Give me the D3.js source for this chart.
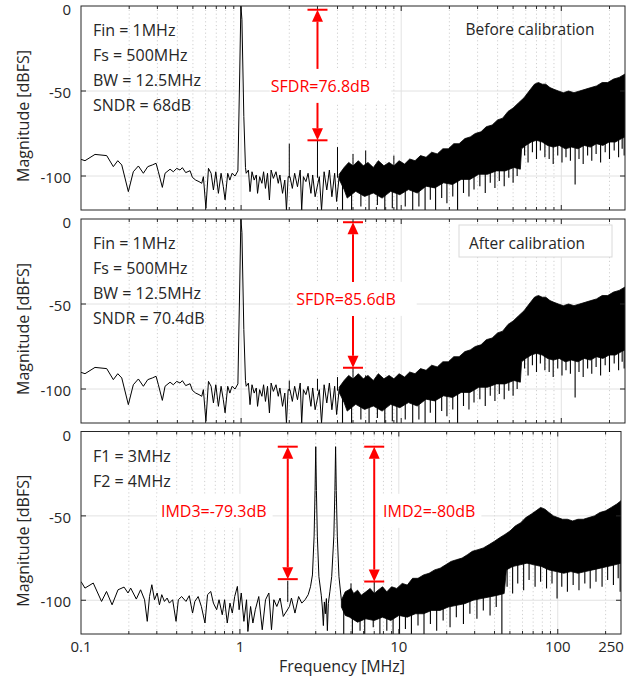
<!DOCTYPE html>
<html>
<head>
<meta charset="utf-8">
<script src="https://cdn.jsdelivr.net/npm/d3@7"></script>
<style>
  body { margin: 0; background: #fff; }
  text { font-family: "Open Sans", "Noto Sans", sans-serif; }
</style>
</head>
<body>
<svg id="chart" width="631" height="679"></svg>
<script>
// ---- axis settings ----
const xDomain = [0.1, 250];
const yDomain = [-120, 0];
const xTickVals = [0.1, 1, 10, 100, 250];
const xTickLabels = ["0.1", "1", "10", "100", "250"];
const yTickVals = [0, -50, -100];
const yTickLabels = ["0", "-50", "-100"];

// ---- single tone spectrum (same trace before / after calibration) ----
const toneLowF = [0.1, 0.1059, 0.1223, 0.1447, 0.1592, 0.1697, 0.1797, 0.1976, 0.2122, 0.2282,
  0.2452, 0.2612, 0.2791, 0.2943, 0.3043, 0.3222, 0.335, 0.36, 0.3772, 0.3964,
  0.4155, 0.4297, 0.4509, 0.48, 0.4964, 0.5205, 0.5459, 0.5677, 0.5814, 0.6027,
  0.6255, 0.6494, 0.6717, 0.695, 0.7215, 0.7499, 0.7743, 0.7943, 0.825, 0.8506,
  0.8781, 0.9163, 0.955, 0.98, 0.997, 1.012, 1.04, 1.065, 1.076, 1.111,
  1.137, 1.17, 1.207, 1.244, 1.267, 1.306, 1.349, 1.382, 1.42, 1.462,
  1.503, 1.54, 1.591, 1.652, 1.707, 1.747, 1.815, 1.875, 1.92, 1.968,
  2.02, 2.09, 2.16, 2.25, 2.34, 2.39, 2.45, 2.54, 2.62, 2.73,
  2.8, 2.9, 3.08, 3.18, 3.3, 3.43, 3.56, 3.69, 3.84, 3.95, 4.1];
const toneLowDb = [-90.2, -91, -87.3, -88, -94.5, -91, -93.5, -109.2, -97.5, -94.1,
  -98.4, -94.5, -93.5, -92.5, -97.5, -106.7, -98.4, -96, -97.5, -95.5,
  -96.5, -95.1, -98, -96.9, -100.8, -102.4, -103.3, -104.3, -100.4, -119,
  -95.5, -98.4, -108.2, -97.5, -110.2, -98.4, -106.3, -114, -98.4, -102.4,
  -98.4, -100, -97, -40, 0, -8, -65, -95, -98.4, -96.5,
  -109.2, -97.5, -102.4, -99.4, -110.2, -100.4, -104.3, -97.5, -107.3, -98.4,
  -114.1, -96.5, -101.4, -97.5, -104.3, -99.4, -110.2, -102.4, -120, -100.4,
  -100.4, -107.3, -98.4, -106.3, -96.5, -120, -100.4, -103.3, -98.4, -110.2,
  -99.4, -112.2, -100.4, -120, -97.5, -108.2, -96.5, -112.2, -98.4, -115, -100];

// dense part of the single tone spectrum: upper envelope, lower bulk edge, downward spikes
const toneTopF = [4.1, 4.4, 4.7, 5.0, 5.4, 5.8, 6.2, 6.7, 7.2, 7.8,
  8.4, 9.0, 9.7, 10.5, 11.3, 12.2, 13.2, 14.3, 15.5, 16.8,
  18.2, 19.7, 21.3, 23, 25, 27, 29, 31.5, 34, 37,
  40, 43, 46.5, 50, 54, 58.5, 63, 68, 72, 76,
  80, 85, 90, 96, 103, 111, 120, 130, 141, 153,
  166, 180, 195, 212, 230, 250];
const toneTopDb = [-99, -95, -92, -94, -91, -94, -92, -95, -91, -94,
  -92, -94, -91, -93, -90, -91, -88, -89, -86, -87,
  -84, -84, -81, -81, -78, -77, -75, -74, -71, -70,
  -67, -66, -62, -60, -57, -54, -50, -46, -45, -46,
  -46, -48, -49, -50, -51, -50, -51, -50, -49, -48,
  -47, -45, -45, -43, -42, -40];
const toneBotF = [4.1, 4.4, 4.6, 5.2, 5.9, 6.7, 7.6, 8.6, 9.8, 11.1, 12.6,
  14.3, 16.2, 18.4, 20.9, 23.7, 26.9, 30.5, 34.6, 39.3, 44.6,
  50.6, 55.5, 56.5, 60, 65, 70, 76, 82, 89, 97,
  106, 116, 127, 139, 152, 166, 182, 199, 218, 238, 250];
const toneBotDb = [-102, -108, -113, -109, -112, -110, -113, -109, -111, -108, -110,
  -106, -107, -104, -105, -102, -102, -99, -99, -97, -97,
  -95, -96, -84, -82, -80, -79, -80, -82, -83, -82,
  -84, -83, -84, -82, -83, -81, -82, -80, -80, -78, -77];
const toneDipF = [4.3, 4.9, 5.6, 6.3, 7.1, 7.9, 8.8, 9.4, 10.6, 11.8,
  12.9, 14.1, 15.2, 16.4, 17.9, 19.3, 21, 22.5, 24.5, 26.5,
  28.5, 31, 33.5, 36, 38.5, 41, 44, 47, 50, 53,
  59, 62, 66, 70, 74, 79, 84, 89, 95, 101,
  107, 114, 122, 129, 137, 146, 155, 165, 176, 188,
  200, 214, 228, 240, 247];
const toneDipDb = [-120, -120, -118, -120, -117, -120, -119, -120, -118, -120,
  -118, -120, -114, -120, -113, -116, -112, -120, -110, -112,
  -108, -106, -110, -104, -107, -103, -106, -101, -104, -100,
  -88, -92, -86, -90, -85, -89, -90, -93, -88, -92,
  -89, -91, -105, -90, -93, -88, -91, -87, -92, -86,
  -90, -85, -89, -84, -88];

// spurs
const beforeSpurF = [2, 3, 4, 5, 6, 9];
const beforeSpurDb = [-81, -79, -83, -87, -85, -88];
const afterSpurF = [2, 3, 4, 5, 6];
const afterSpurDb = [-95, -94, -93, -87.6, -92];

// ---- two tone spectrum ----
const twoLowF = [0.1, 0.1059, 0.1194, 0.1347, 0.1447, 0.1569, 0.171, 0.1866, 0.1976, 0.2054,
  0.2229, 0.2371, 0.2512, 0.2612, 0.2699, 0.2791, 0.2901, 0.3015, 0.3116, 0.3222,
  0.335, 0.3482, 0.36, 0.3772, 0.3964, 0.4098, 0.4297, 0.4577, 0.48, 0.5034,
  0.5205, 0.5459, 0.572, 0.6027, 0.6255, 0.6556, 0.6811, 0.7138, 0.7389, 0.7743,
  0.801, 0.8323, 0.8659, 0.8957, 0.9271, 0.964, 0.9886, 1.0196, 1.0593, 1.1007,
  1.1223, 1.167, 1.207, 1.25, 1.314, 1.382, 1.449, 1.521, 1.58, 1.635,
  1.707, 1.79, 1.875, 2.05, 2.11, 2.22, 2.34, 2.45, 2.57, 2.69,
  2.78, 2.86, 2.93, 2.97, 3.0, 3.03, 3.07, 3.14, 3.25, 3.3,
  3.35, 3.4, 3.45, 3.5, 3.55, 3.6, 3.68, 3.78, 3.9, 3.96,
  4.0, 4.04, 4.1, 4.2, 4.35];
const twoLowDb = [-88.9, -92.8, -89.8, -100.7, -94.8, -102.7, -93.8, -92.2, -95.7, -92.8,
  -99.3, -93.8, -99.7, -112.5, -97.8, -90.8, -99.7, -95.7, -102.7, -96.7,
  -100.7, -98.7, -101.7, -99.7, -112.5, -99.7, -97.8, -100.7, -97.3, -107.6,
  -100.7, -97.8, -103.7, -113.5, -96.7, -94.8, -101.7, -105.6, -99.7, -108.6,
  -99.7, -113.5, -101.7, -107.6, -97.8, -91.8, -105.6, -95.7, -112.5, -99.7,
  -118.5, -103.7, -113.5, -105.6, -97.8, -117.5, -99.7, -95.7, -117.5, -99.7,
  -103.7, -98.7, -109.6, -103.7, -98.7, -107.6, -97.8, -101.7, -99.7, -96.7,
  -92, -85, -62, -35, -9, -35, -62, -86, -97, -104,
  -115, -101, -108, -99, -118, -102, -95, -86, -62, -35,
  -9, -35, -62, -86, -100];
const twoTopF = [4.35, 4.6, 4.8, 5.0, 5.2, 5.5, 5.8, 6.2, 6.6, 7.0,
  7.4, 7.9, 8.4, 9.0, 9.7, 10.5, 11.3, 12.2, 13.2, 14.3,
  15.5, 16.8, 18.2, 19.7, 21.3, 23, 25, 27, 29, 31.5,
  34, 37, 40, 43, 46.5, 50, 54, 58.5, 63, 68,
  73, 78, 83, 88, 94, 100, 107, 115, 124, 134,
  145, 157, 170, 184, 200, 217, 235, 250];
const twoTopDb = [-100, -95, -94, -93, -96, -94, -97, -95, -93, -96,
  -94, -92, -95, -92, -93, -90, -91, -87, -87, -85,
  -84, -82, -81, -79, -77, -76, -75, -73, -71, -70,
  -69, -67, -65, -63, -61, -59, -56, -54, -51, -49,
  -47, -45, -46, -48, -50, -51, -52, -52, -53, -52,
  -52, -51, -50, -48, -47, -45, -43, -41];
const twoBotF = [4.35, 4.6, 4.9, 5.5, 6.2, 7.0, 7.9, 8.9, 10, 11.3, 12.7,
  14.3, 16.1, 18.2, 20.5, 23.1, 26, 29.3, 33, 37.2, 41.9,
  46, 47.5, 52, 58, 64, 71, 79, 88, 98, 109,
  121, 134, 149, 166, 185, 206, 229, 250];
const twoBotDb = [-104, -109, -110, -113, -111, -112, -110, -112, -109, -110, -108,
  -108, -106, -106, -104, -103, -102, -100, -99, -98, -97,
  -96, -82, -80, -79, -78, -79, -80, -82, -83, -84,
  -83, -84, -83, -82, -81, -80, -79, -78];
const twoDipF = [4.5, 5.1, 5.7, 6.1, 6.9, 7.6, 8.4, 9.2, 10.1, 11,
  12, 13.2, 14.4, 15.8, 17.3, 19, 21, 23, 25.5, 28,
  31, 34, 37.5, 41, 44.5, 48, 52, 56, 61, 66,
  72, 78, 85, 92, 99, 106, 115, 125, 136, 148,
  160, 174, 190, 206, 224, 240, 247];
const twoDipDb = [-120, -120, -118, -120, -116, -120, -118, -120, -120, -117,
  -120, -115, -120, -114, -118, -112, -116, -110, -114, -108,
  -111, -106, -109, -104, -120, -92, -96, -90, -94, -88,
  -92, -89, -93, -90, -99, -92, -95, -91, -94, -90,
  -93, -89, -92, -88, -91, -87, -95];
const twoSpurF = [2, 5, 7];
const twoSpurDb = [-88.5, -90, -89];

// ---- annotations ----
const beforeInfo = ["Fin = 1MHz", "Fs = 500MHz", "BW = 12.5MHz", "SNDR = 68dB"];
const afterInfo = ["Fin = 1MHz", "Fs = 500MHz", "BW = 12.5MHz", "SNDR = 70.4dB"];
const twoInfo = ["F1 = 3MHz", "F2 = 4MHz"];
const beforeSfdr = { f: 3, top: -2.2, bot: -79, label: "SFDR=76.8dB" };
const afterSfdr = { f: 5, top: -1.9, bot: -87.5, label: "SFDR=85.6dB" };
const imdArrows = [
  { f: 2, top: -9, bot: -87.5, label: "IMD3=-79.3dB" },
  { f: 7, top: -9, bot: -88.9, label: "IMD2=-80dB" }
];

const zip = (a, b) => a.map((v, i) => [v, b[i]]);

const svg = d3.select("#chart");
const axisColor = "#262626";
const red = "#ff0000";

const panels = [
  { top: 6, bottom: 210, right: 625 },
  { top: 219, bottom: 423, right: 625 },
  { top: 431.5, bottom: 634, right: 621 }
];
const left = 81;

function minorTicks() {
  const minor = [];
  [0.1, 1, 10, 100].forEach(d => {
    for (let k = 2; k <= 9; k++) if (d * k <= 250) minor.push(d * k);
  });
  return minor;
}

function makePanel(idx, p) {
  const x = d3.scaleLog().domain(xDomain).range([left, p.right]);
  const y = d3.scaleLinear().domain(yDomain).range([p.bottom, p.top]);
  const g = svg.append("g");

  g.append("clipPath").attr("id", "clip" + idx)
    .append("rect").attr("x", left).attr("y", p.top)
    .attr("width", p.right - left).attr("height", p.bottom - p.top);

  // grid
  g.selectAll(null).data(minorTicks()).enter().append("line")
    .attr("x1", d => x(d)).attr("x2", d => x(d))
    .attr("y1", p.top).attr("y2", p.bottom)
    .attr("stroke", "#c4c4c4").attr("stroke-width", 0.8)
    .attr("stroke-dasharray", "1.2,2.6");
  g.selectAll(null).data([1, 10, 100]).enter().append("line")
    .attr("x1", d => x(d)).attr("x2", d => x(d))
    .attr("y1", p.top).attr("y2", p.bottom)
    .attr("stroke", "#e2e2e2").attr("stroke-width", 1);
  g.selectAll(null).data([-50, -100]).enter().append("line")
    .attr("x1", left).attr("x2", p.right)
    .attr("y1", d => y(d)).attr("y2", d => y(d))
    .attr("stroke", "#e2e2e2").attr("stroke-width", 1);

  return { x, y, g, p, idx };
}

function drawTrace(P, s) {
  const { x, y, g } = P;
  const data = g.append("g").attr("clip-path", `url(#clip${P.idx})`);
  const line = d3.line().x(d => x(d[0])).y(d => y(d[1]));
  // dense band between upper envelope and lower bulk edge
  const band = zip(s.topF, s.topDb).concat(zip(s.botF, s.botDb).reverse());
  data.append("path").attr("d", line(band) + "Z")
    .attr("fill", "#000").attr("stroke", "#000").attr("stroke-width", 0.8);
  // downward noise spikes below the bulk
  const botAt = d3.scaleLog().domain(s.botF).range(s.botDb);
  data.selectAll(null).data(zip(s.dipF, s.dipDb)).enter().append("line")
    .attr("x1", d => x(d[0])).attr("x2", d => x(d[0]))
    .attr("y1", d => y(botAt(d[0])) - 2).attr("y2", d => y(d[1]))
    .attr("stroke", "#000").attr("stroke-width", 1.1);
  // sparse low-frequency part
  data.append("path").attr("d", line(zip(s.lowF, s.lowDb)))
    .attr("fill", "none").attr("stroke", "#000").attr("stroke-width", 1);
  // spurs
  data.selectAll(null).data(zip(s.spurF, s.spurDb)).enter().append("line")
    .attr("x1", d => x(d[0])).attr("x2", d => x(d[0]))
    .attr("y1", y(-101)).attr("y2", d => y(d[1]))
    .attr("stroke", "#000").attr("stroke-width", 1);
}

function drawAxes(P, showX) {
  const { x, y, g, p } = P;
  g.append("rect").attr("x", left).attr("y", p.top)
    .attr("width", p.right - left).attr("height", p.bottom - p.top)
    .attr("fill", "none").attr("stroke", axisColor).attr("stroke-width", 1);

  [[minorTicks(), 3], [[1, 10, 100], 5]].forEach(([vals, len]) => {
    g.selectAll(null).data(vals).enter().append("line")
      .attr("x1", d => x(d)).attr("x2", d => x(d))
      .attr("y1", p.bottom).attr("y2", p.bottom - len)
      .attr("stroke", axisColor);
    g.selectAll(null).data(vals).enter().append("line")
      .attr("x1", d => x(d)).attr("x2", d => x(d))
      .attr("y1", p.top).attr("y2", p.top + len)
      .attr("stroke", axisColor);
  });
  g.selectAll(null).data([-50, -100]).enter().append("line")
    .attr("x1", left).attr("x2", left + 5)
    .attr("y1", d => y(d)).attr("y2", d => y(d)).attr("stroke", axisColor);
  g.selectAll(null).data([-50, -100]).enter().append("line")
    .attr("x1", p.right - 5).attr("x2", p.right)
    .attr("y1", d => y(d)).attr("y2", d => y(d)).attr("stroke", axisColor);

  g.selectAll(null).data(yTickVals).enter().append("text")
    .attr("x", 71).attr("y", d => y(d) + (d === 0 ? 3 : 1))
    .attr("text-anchor", "end").attr("dominant-baseline", "central")
    .attr("font-size", 15).attr("fill", axisColor)
    .text((d, i) => yTickLabels[i]);

  g.append("text")
    .attr("transform", `translate(22.5,${(p.top + p.bottom) / 2 + 8}) rotate(-90)`)
    .attr("text-anchor", "middle").attr("dominant-baseline", "central")
    .attr("font-size", 16).attr("fill", axisColor)
    .text("Magnitude [dBFS]");

  if (showX) {
    g.selectAll(null).data(xTickVals).enter().append("text")
      .attr("x", d => x(d) - (d === 250 ? 10 : 0)).attr("y", p.bottom + 18)
      .attr("text-anchor", "middle")
      .attr("font-size", 15).attr("fill", axisColor)
      .text((d, i) => xTickLabels[i]);
    g.append("text").attr("x", 342).attr("y", p.bottom + 38)
      .attr("text-anchor", "middle")
      .attr("font-size", 16).attr("fill", axisColor)
      .text("Frequency [MHz]");
  }
}

function drawInfo(P, lines) {
  P.g.selectAll(null).data(lines).enter().append("text")
    .attr("x", 93).attr("y", (d, i) => P.p.top + 24 + i * 25)
    .attr("dominant-baseline", "central")
    .attr("font-size", 16).attr("fill", axisColor)
    .text(d => d);
}

function drawArrow(P, a, labelDx, boxPad, splitLine) {
  const { x, y, g } = P;
  const ax = x(a.f), y1 = y(a.top), y2 = y(a.bot);
  const head = 12, hw = 5.5;
  const ly = y(-47);
  const box = g.append("rect");
  const t = g.append("text")
    .attr("x", ax + labelDx).attr("y", ly)
    .attr("text-anchor", "middle").attr("dominant-baseline", "central")
    .attr("font-size", 16).attr("fill", red).text(a.label);
  const bb = t.node().getBBox();
  box.attr("x", bb.x - boxPad[0]).attr("y", ly - 17)
    .attr("width", bb.width + boxPad[0] + boxPad[1]).attr("height", 34)
    .attr("fill", "#fff");

  const segs = splitLine ? [[y1 + head, ly - 17], [ly + 17, y2 - head]] : [[y1 + head, y2 - head]];
  segs.forEach(s => g.append("line")
    .attr("x1", ax).attr("x2", ax).attr("y1", s[0]).attr("y2", s[1])
    .attr("stroke", red).attr("stroke-width", 2));
  g.append("path").attr("d", `M${ax},${y1}L${ax - hw},${y1 + head}L${ax + hw},${y1 + head}Z`).attr("fill", red);
  g.append("path").attr("d", `M${ax},${y2}L${ax - hw},${y2 - head}L${ax + hw},${y2 - head}Z`).attr("fill", red);
  [y1, y2].forEach(yy => g.append("line")
    .attr("x1", ax - 10).attr("x2", ax + 10).attr("y1", yy).attr("y2", yy)
    .attr("stroke", red).attr("stroke-width", 2));
}

const toneDense = { topF: toneTopF, topDb: toneTopDb, botF: toneBotF, botDb: toneBotDb, dipF: toneDipF, dipDb: toneDipDb };

// panel 1: before calibration
const P1 = makePanel(0, panels[0]);
drawTrace(P1, Object.assign({ lowF: toneLowF, lowDb: toneLowDb, spurF: beforeSpurF, spurDb: beforeSpurDb }, toneDense));
drawInfo(P1, beforeInfo);
P1.g.append("text").attr("x", 530).attr("y", 29).attr("text-anchor", "middle")
  .attr("dominant-baseline", "central").attr("font-size", 15.5).attr("fill", axisColor)
  .text("Before calibration");
drawArrow(P1, beforeSfdr, 3, [1, 21], true);
drawAxes(P1, false);

// panel 2: after calibration
const P2 = makePanel(1, panels[1]);
drawTrace(P2, Object.assign({ lowF: toneLowF, lowDb: toneLowDb, spurF: afterSpurF, spurDb: afterSpurDb }, toneDense));
drawInfo(P2, afterInfo);
P2.g.append("rect").attr("x", 459).attr("y", 225).attr("width", 153).attr("height", 32)
  .attr("fill", "#fff").attr("stroke", "#dadada").attr("stroke-width", 1);
P2.g.append("text").attr("x", 527).attr("y", 243).attr("text-anchor", "middle")
  .attr("dominant-baseline", "central").attr("font-size", 15.5).attr("fill", axisColor)
  .text("After calibration");
drawArrow(P2, afterSfdr, -7, [3, 21], true);
drawAxes(P2, false);

// panel 3: two tone test
const P3 = makePanel(2, panels[2]);
drawTrace(P3, { lowF: twoLowF, lowDb: twoLowDb, topF: twoTopF, topDb: twoTopDb, botF: twoBotF, botDb: twoBotDb,
  dipF: twoDipF, dipDb: twoDipDb, spurF: twoSpurF, spurDb: twoSpurDb });
drawInfo(P3, twoInfo);
drawArrow(P3, imdArrows[0], -74, [4, 6], false);
drawArrow(P3, imdArrows[1], 55, [5, 6], false);
drawAxes(P3, true);
</script>
</body>
</html>
